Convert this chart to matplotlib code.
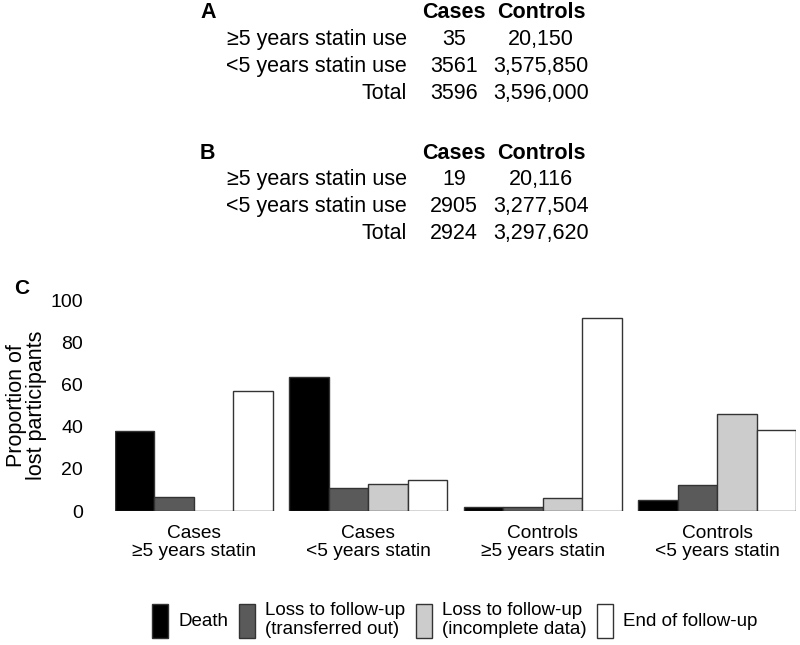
import matplotlib
matplotlib.use('Agg')
import numpy as np
from matplotlib import pyplot as plt
from matplotlib.patches import Patch

plt.rcParams['font.family'] = ['Liberation Sans', 'DejaVu Sans']

# table data (panels A and B)
rowLabels = ['\u22655 years statin use', '<5 years statin use', 'Total']
casesA = ['35', '3561', '3596']
controlsA = ['20,150', '3,575,850', '3,596,000']
casesB = ['19', '2905', '2924']
controlsB = ['20,116', '3,277,504', '3,297,620']

# bar data (panel C)
groups = ['Cases\n\u22655 years statin', 'Cases\n<5 years statin',
          'Controls\n\u22655 years statin', 'Controls\n<5 years statin']
reasons = ['Death', 'Loss to follow-up\n(transferred out)',
           'Loss to follow-up\n(incomplete data)', 'End of follow-up']
death = [38, 63.5, 2, 5]
transferred = [6.5, 10.7, 1.8, 12.5]
incomplete = [0, 13, 6, 46]
endFollowUp = [57, 14.8, 91.5, 38.5]
colors = ['#000000', '#5a5a5a', '#cccccc', '#ffffff']

W, H = 800, 645
fig = plt.figure(figsize=(W/100, H/100), dpi=100)
FS = 13.8
TFS = 15.5  # table text is a bit larger

def px(x, y):
    return x/W, 1 - y/H

def drawTable(letter, yTop, cases, controls):
    fig.text(*px(200, yTop), letter, fontsize=TFS, fontweight='bold', ha='left', va='center')
    fig.text(*px(454, yTop), 'Cases', fontsize=TFS, fontweight='bold', ha='center', va='center')
    fig.text(*px(541, yTop), 'Controls', fontsize=TFS, fontweight='bold', ha='center', va='center')
    for i, lab in enumerate(rowLabels):
        y = yTop + 26.8*(i+1)
        fig.text(*px(407, y), lab, fontsize=TFS, ha='right', va='center')
        fig.text(*px(454, y), cases[i], fontsize=TFS, ha='center', va='center')
        fig.text(*px(541, y), controls[i], fontsize=TFS, ha='center', va='center')

drawTable('A', 13, casesA, controlsA)
drawTable('B', 153, casesB, controlsB)

ax = fig.add_axes([115/W, (H-511)/H, 681/W, 211/H])
series = [death, transferred, incomplete, endFollowUp]
x = np.arange(len(groups))
w = 0.2264
for j, vals in enumerate(series):
    ax.bar(x + (j-1.5)*w, vals, width=w, color=colors[j], edgecolor='#333333', linewidth=1.0)

ax.set_xlim(-2*w, len(groups)-1 + 2*w)
ax.set_ylim(0, 100)
ax.set_yticks([0, 20, 40, 60, 80, 100])
ax.set_xticks(x)
ax.set_xticklabels(groups, fontsize=FS, linespacing=1.1)
ax.tick_params(axis='y', length=0, pad=23, labelsize=14)
ax.tick_params(axis='x', length=0, pad=10)
for s in ax.spines.values():
    s.set_visible(False)
ax.set_ylabel('Proportion of\nlost participants', fontsize=15.5, linespacing=0.95)
ax.yaxis.set_label_coords(-0.10, 0.5)
fig.text(*px(22, 288), 'C', fontsize=15, fontweight='bold', ha='center', va='center')

handles = [Patch(facecolor=c, edgecolor='#333333', linewidth=1.0) for c in colors]
fig.legend(handles, reasons, loc='center', bbox_to_anchor=(455/W, 1 - 620/H), ncol=4,
           frameon=False, fontsize=13.5, handlelength=0.85, handleheight=2.4,
           handletextpad=0.55, columnspacing=0.55, borderaxespad=0)

fig.savefig('out.png', dpi=100)
